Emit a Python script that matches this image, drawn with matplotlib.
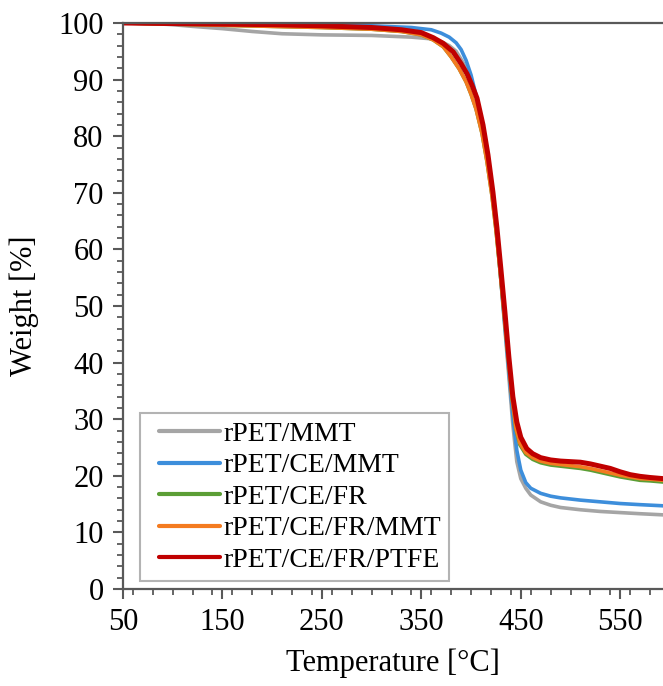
import numpy as np
import matplotlib
matplotlib.use("Agg")
import matplotlib.pyplot as plt
from matplotlib.ticker import MultipleLocator
from matplotlib.legend_handler import HandlerLine2D

# ── TGA curves (temperature in °C, weight in %) ──
labels = ["rPET/MMT", "rPET/CE/MMT", "rPET/CE/FR", "rPET/CE/FR/MMT", "rPET/CE/FR/PTFE"]
colors = ["#A5A5A5", "#3D8EDB", "#5B9E35", "#F47B20", "#C00000"]
widths = [2.6, 2.6, 2.6, 2.6, 3.6]

t_mmt = [50, 80, 100, 120, 150, 180, 210, 250, 300, 340, 360, 370, 378, 385, 392, 400,
         406, 412, 417, 422, 426, 430, 434, 438, 442, 446, 450, 455, 460, 470, 480, 490,
         500, 510, 530, 550, 570, 593]
w_mmt = [100, 99.9, 99.7, 99.4, 99.0, 98.5, 98.1, 97.9, 97.8, 97.5, 97.2, 96.7, 96.0, 95.0,
         93.0, 89.8, 86.5, 81.8, 76.3, 69.5, 62.5, 54.5, 46.0, 37.5, 29.0, 22.5, 19.5,
         17.8, 16.6, 15.4, 14.8, 14.4, 14.2, 14.0, 13.7, 13.5, 13.3, 13.1]

t_ce_mmt = [50, 100, 150, 200, 250, 300, 340, 360, 370, 378, 385, 390, 395, 400, 406, 412,
            417, 422, 426, 430, 434, 438, 442, 446, 450, 455, 460, 470, 480, 490, 500, 510,
            530, 550, 570, 593]
w_ce_mmt = [100, 99.9, 99.8, 99.8, 99.7, 99.5, 99.2, 98.8, 98.2, 97.5, 96.5, 95.3, 93.4,
            90.8, 86.5, 81.3, 75.8, 69.0, 62.3, 54.5, 46.5, 38.5, 30.5, 24.5, 21.0, 18.8,
            17.8, 16.9, 16.4, 16.1, 15.9, 15.7, 15.4, 15.1, 14.9, 14.7]

t_fr = [50, 100, 150, 200, 250, 300, 330, 350, 362, 372, 380, 388, 395, 400, 405, 411, 416,
        421, 425, 429, 433, 437, 441, 445, 449, 455, 462, 470, 480, 490, 500, 510, 520, 530,
        540, 550, 560, 570, 580, 593]
w_fr = [100, 99.8, 99.6, 99.4, 99.2, 98.9, 98.5, 97.9, 97.0, 95.8, 94.0, 91.9, 89.6, 87.4,
        84.8, 80.5, 75.5, 69.5, 63.5, 56.5, 49.0, 41.5, 34.0, 28.3, 25.5, 23.8, 22.9, 22.3,
        21.9, 21.7, 21.5, 21.3, 21.0, 20.6, 20.2, 19.8, 19.5, 19.2, 19.1, 18.9]

t_fr_mmt = t_fr
w_fr_mmt = [100, 99.8, 99.6, 99.4, 99.2, 98.9, 98.5, 97.9, 97.0, 95.8, 94.0, 91.9, 89.6,
            87.4, 84.8, 80.5, 75.5, 69.5, 63.5, 56.5, 49.0, 41.5, 34.0, 28.5, 25.8, 24.1,
            23.2, 22.6, 22.2, 22.0, 21.8, 21.6, 21.3, 20.9, 20.5, 20.1, 19.8, 19.5, 19.4, 19.2]

t_ptfe = [50, 100, 150, 200, 250, 300, 330, 350, 362, 372, 382, 390, 396, 401, 406, 412, 417,
          422, 426, 430, 434, 438, 442, 446, 450, 456, 462, 470, 480, 490, 500, 510, 520, 530,
          540, 550, 560, 570, 580, 593]
w_ptfe = [100, 99.9, 99.8, 99.7, 99.5, 99.2, 98.8, 98.3, 97.4, 96.4, 94.9, 92.8, 91.0, 89.0,
          86.7, 82.0, 76.7, 70.1, 63.8, 56.5, 49.0, 41.0, 34.0, 29.5, 26.8, 24.8, 23.9, 23.2,
          22.8, 22.6, 22.5, 22.4, 22.1, 21.7, 21.3, 20.7, 20.2, 19.9, 19.7, 19.5]

temps = [t_mmt, t_ce_mmt, t_fr, t_fr_mmt, t_ptfe]
weights = [w_mmt, w_ce_mmt, w_fr, w_fr_mmt, w_ptfe]

x_ticks = [50, 150, 250, 350, 450, 550]
y_ticks = [0, 10, 20, 30, 40, 50, 60, 70, 80, 90, 100]

plt.rcParams["font.family"] = ["Liberation Serif", "DejaVu Serif"]
plt.rcParams["font.size"] = 22

fig = plt.figure(figsize=(6.63, 6.86), dpi=100)
ax = fig.add_axes([0.1855, 0.1414, 0.8145, 0.8251])

for t, w, lab, c, lw in zip(temps, weights, labels, colors, widths):
    ax.plot(t, w, color=c, linewidth=lw, label=lab, solid_capstyle="round")

ax.set_xlim(50, 593)
ax.set_ylim(0, 100)
ax.set_xticks(x_ticks)
ax.set_yticks(y_ticks)
ax.xaxis.set_minor_locator(MultipleLocator(20))
ax.yaxis.set_minor_locator(MultipleLocator(2))

spine_col = "#595959"
for side in ["left", "bottom", "top"]:
    ax.spines[side].set_color(spine_col)
    ax.spines[side].set_linewidth(1.6)
ax.spines["right"].set_visible(False)

ax.tick_params(which="major", direction="out", length=7, width=1.5, color=spine_col,
               labelsize=22, pad=7)
ax.tick_params(which="minor", direction="out", length=4, width=1.3, color=spine_col)

ax.set_xlabel("Temperature [°C]", fontsize=22, labelpad=8)
ax.set_ylabel("Weight [%]", fontsize=22, labelpad=14)

leg = ax.legend(loc="upper left", bbox_to_anchor=(0.031, 0.311), borderaxespad=0,
                fontsize=20, frameon=True, fancybox=False, handlelength=2.6,
                handletextpad=0.1, labelspacing=0.22, borderpad=0.3,
                handler_map={plt.Line2D: HandlerLine2D(xpad=0.4)})
leg.get_frame().set_edgecolor("#A0A0A0")
leg.get_frame().set_linewidth(1.5)
for line in leg.get_lines():
    line.set_linewidth(3)

fig.savefig("out.png", dpi=100)
